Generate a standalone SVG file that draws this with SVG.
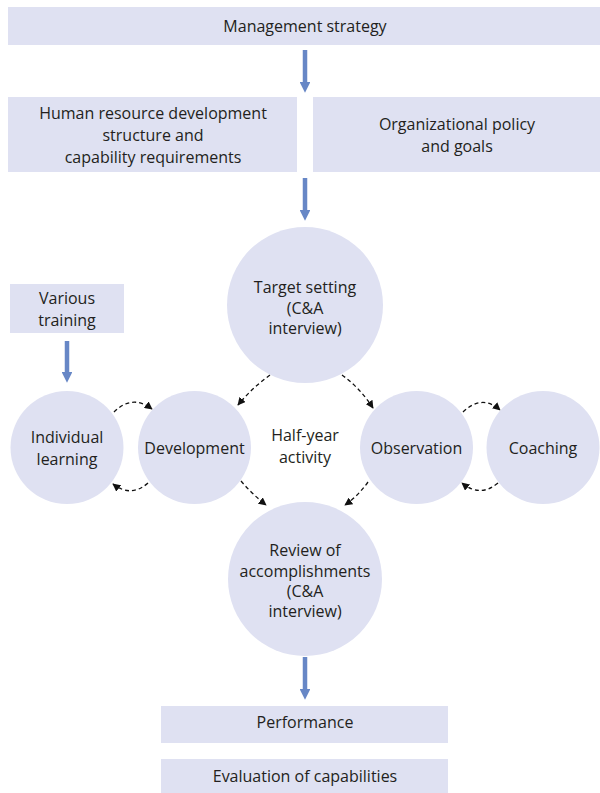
<svg xmlns="http://www.w3.org/2000/svg" width="600" height="793" viewBox="0 0 600 793">
  <style>
    .box { fill: #dfe1f2; }
    .circ { fill: #dfe1f2; }
    .lbl { font-family: "Open Sans", "Noto Sans", "DejaVu Sans", sans-serif; font-size: 16px; fill: #231f20; text-anchor: middle; dominant-baseline: central; }
    .flow { stroke: #6787c6; stroke-width: 4.5; fill: none; }
    .dash { stroke: #111; stroke-width: 1.3; fill: none; stroke-dasharray: 4 3; marker-end: url(#dhead); }
  </style>
  <defs>
    <marker id="bhead" viewBox="0 0 10 10" refX="0" refY="5" markerWidth="2.4" markerHeight="2.4" orient="auto" markerUnits="strokeWidth">
      <path d="M0,0 L10,5 L0,10 Z" fill="#6787c6"/>
    </marker>
    <marker id="dhead" viewBox="0 0 10 10" refX="9" refY="5" markerWidth="8" markerHeight="8" orient="auto" markerUnits="userSpaceOnUse">
      <path d="M0,0 L10,5 L0,10 Z" fill="#111"/>
    </marker>
  </defs>

  <rect width="600" height="793" fill="#ffffff"/>

  <!-- connectors -->
  <g id="connectors">
    <path class="flow" d="M305,50 V82" marker-end="url(#bhead)"/>
    <path class="flow" d="M305,178 V210" marker-end="url(#bhead)"/>
    <path class="flow" d="M67,341 V372" marker-end="url(#bhead)"/>
    <path class="flow" d="M305,657 V689" marker-end="url(#bhead)"/>

    <path class="dash" d="M270,375 Q252,388 238,405"/>
    <path class="dash" d="M342,375 Q360,388 373,408"/>
    <path class="dash" d="M241,481 Q252,494 266,505"/>
    <path class="dash" d="M368,482 Q358,496 345,505"/>

    <path class="dash" d="M114,412 Q132,394 152,409"/>
    <path class="dash" d="M148,483 Q131,498 113,484"/>
    <path class="dash" d="M463,412 Q482,394 500,410"/>
    <path class="dash" d="M498,483 Q480,498 462,483"/>
  </g>

  <g id="management-strategy">
    <rect class="box" x="8" y="7" width="592" height="38"/>
    <text class="lbl" x="305" y="26">Management strategy</text>
  </g>

  <g id="hrd-structure">
    <rect class="box" x="8" y="97" width="289" height="75"/>
    <text class="lbl" x="153" y="113">Human resource development</text>
    <text class="lbl" x="153" y="135">structure and</text>
    <text class="lbl" x="153" y="157">capability requirements</text>
  </g>

  <g id="org-policy">
    <rect class="box" x="313" y="97" width="287" height="75"/>
    <text class="lbl" x="457" y="124">Organizational policy</text>
    <text class="lbl" x="457" y="146">and goals</text>
  </g>

  <g id="target-setting">
    <circle class="circ" cx="305" cy="305" r="78"/>
    <text class="lbl" x="305" y="287">Target setting</text>
    <text class="lbl" x="305" y="308">(C&amp;A</text>
    <text class="lbl" x="305" y="328">interview)</text>
  </g>

  <g id="various-training">
    <rect class="box" x="10" y="284" width="114" height="49"/>
    <text class="lbl" x="67" y="298">Various</text>
    <text class="lbl" x="67" y="320">training</text>
  </g>

  <g id="individual-learning">
    <circle class="circ" cx="67" cy="447.5" r="56.5"/>
    <text class="lbl" x="67" y="437">Individual</text>
    <text class="lbl" x="67" y="459">learning</text>
  </g>

  <g id="development">
    <circle class="circ" cx="194.5" cy="447.5" r="56.5"/>
    <text class="lbl" x="194.5" y="448">Development</text>
  </g>

  <g id="half-year">
    <text class="lbl" x="305" y="435">Half-year</text>
    <text class="lbl" x="305" y="457">activity</text>
  </g>

  <g id="observation">
    <circle class="circ" cx="416.5" cy="447.5" r="56.5"/>
    <text class="lbl" x="416.5" y="448">Observation</text>
  </g>

  <g id="coaching">
    <circle class="circ" cx="543" cy="447.5" r="56.5"/>
    <text class="lbl" x="543" y="448">Coaching</text>
  </g>

  <g id="review">
    <circle class="circ" cx="305" cy="579" r="77"/>
    <text class="lbl" x="305" y="550">Review of</text>
    <text class="lbl" x="305" y="571">accomplishments</text>
    <text class="lbl" x="305" y="591">(C&amp;A</text>
    <text class="lbl" x="305" y="611">interview)</text>
  </g>

  <g id="performance">
    <rect class="box" x="161" y="706" width="287" height="37"/>
    <text class="lbl" x="305" y="722">Performance</text>
  </g>

  <g id="evaluation">
    <rect class="box" x="161" y="759" width="287" height="34"/>
    <text class="lbl" x="305" y="776">Evaluation of capabilities</text>
  </g>
</svg>
